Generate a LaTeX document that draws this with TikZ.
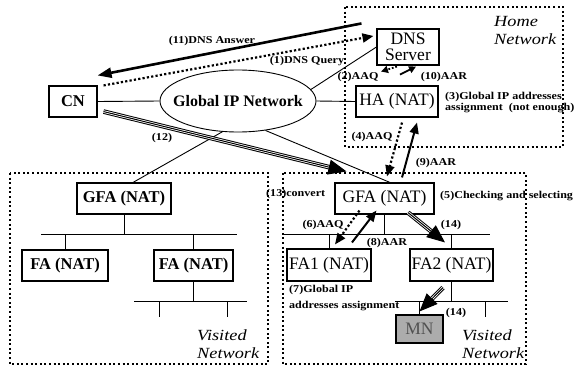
\documentclass[tikz,border=0pt]{standalone}
\usepackage{fontspec}
\setmainfont{Liberation Serif}
\newfontfamily\lblfont[FakeStretch=1.15]{Liberation Serif}
\newfontfamily\netfont[FakeStretch=1.18]{Liberation Serif}
\usepackage{tikz}
\usetikzlibrary{calc,arrows.meta,shapes.geometric}
\definecolor{mnfill}{RGB}{172,172,172}
\definecolor{mntext}{RGB}{80,80,80}

\begin{document}
\begin{tikzpicture}[x=1pt, y=-1pt,
  box/.style={draw, line width=1.1pt, inner sep=1pt, minimum height=31pt, font=\fontsize{17.5}{16}\selectfont},
  boldbox/.style={box, font=\bfseries\fontsize{16.5}{16}\selectfont},
  lbl/.style={inner sep=0pt, font=\lblfont\bfseries\fontsize{10.5}{11.5}\selectfont},
  net/.style={inner sep=0pt, anchor=north west, align=left, font=\netfont\itshape\fontsize{15.5}{18}\selectfont},
  zone/.style={line width=2pt, dash pattern=on 2pt off 2.6pt},
  wire/.style={line width=0.9pt},
  req/.style={line width=2.2pt, dash pattern=on 2.2pt off 2.2pt, -{Triangle[length=11pt,width=9pt]}},
  rep/.style={line width=2pt, -{Triangle[length=11pt,width=9pt]}},
  tripleline/.style={double, double distance=2.6pt, line width=1pt, shorten >=12pt},
  triplehead/.style={line width=1pt, -{Triangle[length=18pt,width=15pt]}}]
  \useasboundingbox (0,0) rectangle (578,372);

  \draw[zone] (345,7) rectangle (563,147);
  \draw[zone] (10,173) rectangle (268,364);
  \draw[zone] (283,173) rectangle (526,364);

  \node[boldbox, minimum width=48pt] (cn) at (73,101.5) {CN};
  \node[draw, wire, ellipse, inner sep=0pt, minimum width=156pt, minimum height=62pt] (gipn) at (238,101) {};
  \node[inner sep=0pt, font=\bfseries\fontsize{16}{16}\selectfont] (gipntext) at (gipn.center) {Global IP Network};
  \node[box, align=center, minimum width=62pt, minimum height=36pt] (dns) at (408,47) {DNS\\Server};
  \node[box, minimum width=82pt] (ha) at (397,101.5) {HA (NAT)};

  \node[boldbox, minimum width=94pt] (lgfa) at (124,198.5) {GFA (NAT)};
  \node[boldbox, minimum width=86pt] (lfa1) at (65,265.5) {FA (NAT)};
  \node[boldbox, minimum width=79pt] (lfa2) at (193.5,265.5) {FA (NAT)};

  \node[box, minimum width=99pt] (rgfa) at (384.5,198.5) {GFA (NAT)};
  \node[box, minimum width=84pt, minimum height=32pt] (fa1) at (329,265) {FA1 (NAT)};
  \node[box, minimum width=83pt, minimum height=32pt] (fa2) at (451.5,265) {FA2 (NAT)};
  \node[box, fill=mnfill, text=mntext, minimum width=47pt, minimum height=28pt] (mn) at (419.5,329) {MN};

  \draw[wire] (cn.east) -- (gipn.west);
  \draw[wire] (gipn.east) -- (ha.west);
  \draw[wire] (gipn.9) -- (dns.west);
  \draw[wire] (gipn.-117) -- ($(lgfa.north)+(9,0)$);
  \draw[wire] (gipn.-47) -- ($(rgfa.north)+(5.5,0)$);

  \coordinate (lbusw) at (41,234);
  \coordinate (lbuse) at (237,234);
  \coordinate (lsubw) at (134,301);
  \coordinate (lsube) at (247,301);
  \draw[wire] (lbusw) -- (lbuse);
  \draw[wire] (lgfa.south) -- (lgfa.south |- lbusw);
  \draw[wire] (lfa1.north) -- (lfa1.north |- lbusw);
  \draw[wire] (lfa2.north) -- (lfa2.north |- lbusw);
  \draw[wire] (lsubw) -- (lsube);
  \draw[wire] (lfa2.south) -- (lfa2.south |- lsubw);
  \draw[wire] (159,301) -- (159,317);
  \draw[wire] (227,301) -- (227,317);

  \coordinate (rbusw) at (283,234);
  \coordinate (rbuse) at (490,234);
  \coordinate (rsubw) at (395,301);
  \coordinate (rsube) at (508,301);
  \draw[wire] (rbusw) -- (rbuse);
  \draw[wire] (rgfa.south) -- (rgfa.south |- rbusw);
  \draw[wire] (fa1.north) -- (fa1.north |- rbusw);
  \draw[wire] (fa2.north) -- (fa2.north |- rbusw);
  \draw[wire] (rsubw) -- (rsube);
  \draw[wire] (fa2.south) -- (fa2.south |- rsubw);
  \draw[wire] (mn.north |- rsubw) -- (mn.north);
  \draw[wire] (485,301) -- (485,317);

  \draw[line width=2.6pt, -{Triangle[length=14pt,width=10pt]}] ($(dns.north west)+(-15,-5)$) -- ($(cn.north east)+(0,-10)$);
  \draw[req] ($(cn.north east)+(6,0)$) -- ($(dns.west)+(-3,-11)$);
  \draw[tripleline] ($(cn.south east)+(6,-6)$) -- ($(rgfa.north west)+(12,-11)$);
  \draw[triplehead] ($(cn.south east)+(6,-6)$) -- ($(rgfa.north west)+(12,-11)$);
  \draw[line width=1.8pt, dash pattern=on 1.8pt off 1.8pt, -{Triangle[length=7pt,width=7pt]}] ($(dns.south)+(-11,1)$) -- ($(dns.south)+(-27,6)$);
  \draw[line width=1.8pt, -{Triangle[length=7pt,width=7pt]}] ($(dns.south)+(-8,9)$) -- ($(dns.south)+(8,1)$);
  \draw[req] ($(ha.south)+(5,5)$) -- ($(rgfa.north)+(2.5,-6)$);
  \draw[rep] ($(rgfa.north)+(17.5,-5)$) -- ($(ha.south)+(20,5)$);
  \draw[req] ($(rgfa.south west)+(25,-4)$) -- ($(fa1.north)+(6,-4)$);
  \draw[rep] ($(fa1.north)+(23,-6)$) -- ($(rgfa.south west)+(42,-4)$);
  \draw[tripleline] ($(rgfa.south)+(23.5,-2)$) -- ($(fa2.north)+(-6.5,-6)$);
  \draw[triplehead] ($(rgfa.south)+(23.5,-2)$) -- ($(fa2.north)+(-6.5,-6)$);
  \draw[tripleline] ($(fa2.south)+(-8.5,6)$) -- ($(mn.north)+(0,-3)$);
  \draw[triplehead] ($(fa2.south)+(-8.5,6)$) -- ($(mn.north)+(0,-3)$);

  \node[lbl] (l11) at (212,41) {(11)DNS Answer};
  \node[lbl] (l1) at (307,61) {(1)DNS Query};
  \node[lbl] (l12) at (162,138) {(12)};
  \node[lbl] (l2) at (358,77) {(2)AAQ};
  \node[lbl] (l10) at (444,77) {(10)AAR};
  \node[lbl, anchor=west, align=left] (l3) at (445,102.5) {(3)Global IP addresses\\assignment\ \ (not enough)};
  \node[lbl] (l4) at (372,137) {(4)AAQ};
  \node[lbl] (l9) at (436,163) {(9)AAR};
  \node[lbl, anchor=west] (l13) at (266,194) {(13)convert};
  \node[lbl, anchor=west] (l5) at (440,196) {(5)Checking and selecting};
  \node[lbl] (l6) at (323,225) {(6)AAQ};
  \node[lbl] (l14a) at (451,225) {(14)};
  \node[lbl] (l8) at (387,243) {(8)AAR};
  \node[lbl, anchor=west, align=left, font=\lblfont\bfseries\fontsize{10.5}{16}\selectfont] (l7) at (289,298) {(7)Global IP\\addresses assignment};
  \node[lbl] (l14b) at (456,313) {(14)};

  \node[net] (home) at (494,16) {Home\\Network};
  \node[net] (vleft) at (197,330) {Visited\\Network};
  \node[net] (vright) at (462,330) {Visited\\Network};
\end{tikzpicture}
\end{document}
